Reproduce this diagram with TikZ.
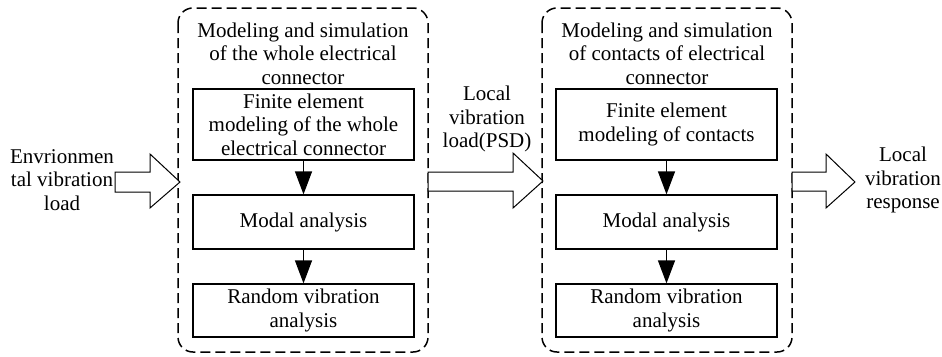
\documentclass[tikz,border=0pt]{standalone}
\usepackage{fontspec}
\setmainfont{Liberation Serif}
\usetikzlibrary{arrows.meta}
\begin{document}
\begin{tikzpicture}[x=1pt,y=-1pt,
  txt/.style={align=center,inner sep=0pt,font=\fontsize{21}{23.5}\selectfont},
  inbox/.style={draw,line width=1.2pt,minimum width=221pt,align=center,inner sep=0pt,font=\fontsize{21}{23.5}\selectfont},
  group/.style={draw,line width=1.5pt,dash pattern=on 10pt off 5pt,rounded corners=15pt},
  flow/.style={line width=1.2pt,-{Triangle[length=23pt,width=17pt]}},
  blockarrow/.style={draw,line width=1pt,fill=white}]
\useasboundingbox (0,0) rectangle (942,356);
% group boxes
\draw[group] (178,8) rectangle (428,352);
\draw[group] (542,8) rectangle (792,352);
\node[txt] (t1) at (303,53.5) {Modeling and simulation\\of the whole electrical\\connector};
\node[txt] (t2) at (667,53.5) {Modeling and simulation\\of contacts of electrical\\connector};
% left column
\node[inbox,minimum height=71pt] (a1) at (303.5,124.5) {Finite element\\modeling of the whole\\electrical connector};
\node[inbox,minimum height=54pt] (a2) at (303.5,222) {Modal analysis};
\node[inbox,minimum height=53pt] (a3) at (303.5,310.5) {Random vibration\\analysis};
\draw[flow] (a1) -- (a2);
\draw[flow] (a2) -- (a3);
% right column
\node[inbox,minimum height=71pt] (b1) at (666.5,124.5) {Finite element\\modeling of contacts};
\node[inbox,minimum height=54pt] (b2) at (666.5,222) {Modal analysis};
\node[inbox,minimum height=53pt] (b3) at (666.5,310.5) {Random vibration\\analysis};
\draw[flow] (b1) -- (b2);
\draw[flow] (b2) -- (b3);
% block arrows
\draw[blockarrow] (115,172) -- (150,172) -- (150,154) -- (180,182) -- (150,208) -- (150,192) -- (115,192) -- cycle;
\draw[blockarrow] (428,172) -- (513,172) -- (513,153) -- (543,181) -- (513,208) -- (513,191) -- (428,191) -- cycle;
\draw[blockarrow] (792,172) -- (826,172) -- (826,154) -- (855,182) -- (826,208) -- (826,191) -- (792,191) -- cycle;
% labels
\node[txt] (l1) at (62,180) {Envrionmen\\tal vibration\\load};
\node[txt] (l2) at (487,119) {Local\\vibration\\load(PSD)};
\node[txt] (l3) at (903,180) {Local\\vibration\\response};
\end{tikzpicture}
\end{document}
